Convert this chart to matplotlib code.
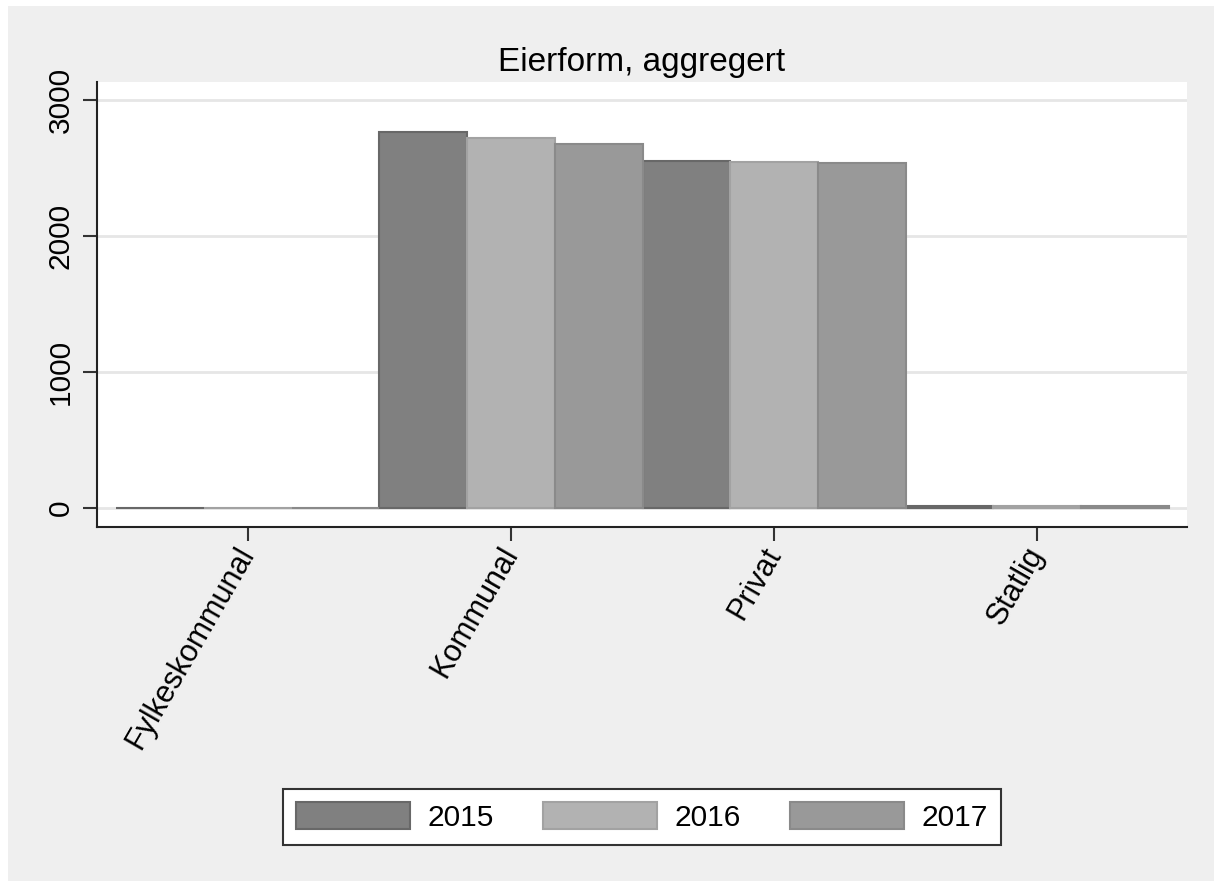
import matplotlib.pyplot as plt
import matplotlib.patches as mpatches
import numpy as np

plt.rcParams['font.family'] = ['Liberation Sans', 'DejaVu Sans']

categories = ['Fylkeskommunal', 'Kommunal', 'Privat', 'Statlig']
years = ['2015', '2016', '2017']
v2015 = [3, 2765, 2554, 12]
v2016 = [3, 2723, 2544, 11]
v2017 = [3, 2679, 2537, 11]

colors = ['#808080', '#b2b2b2', '#999999']
edges = ['#686868', '#a2a2a2', '#8a8a8a']

fig = plt.figure(figsize=(12.14, 8.81), dpi=100, facecolor='white')
# grey graph region (Stata style), slightly cropped at top/left
fig.patches.append(mpatches.Rectangle((8 / 1214, 0), 1, 1 - 6 / 881,
                                      transform=fig.transFigure,
                                      facecolor='#efefef', edgecolor='none', zorder=-10))

ax = fig.add_axes([97 / 1214, 1 - 527 / 881, 1090 / 1214, 445 / 881])
ax.set_zorder(2)
ax.set_facecolor('white')

x = np.arange(len(categories))
w = 1 / 3
for i, vals in enumerate([v2015, v2016, v2017]):
    ax.bar(x + (i - 1) * w, vals, width=w, color=colors[i], edgecolor=edges[i],
           linewidth=1.5, label=years[i], zorder=3)

ax.set_xlim(-0.574, 3.57)
ax.set_ylim(-140, 3132)
ax.set_yticks([0, 1000, 2000, 3000])
ax.set_yticklabels(['0', '1000', '2000', '3000'], rotation=90, va='center')
ax.grid(axis='y', color='#e6e6e6', linewidth=2, zorder=0)
ax.set_axisbelow(True)

ax.set_xticks(x)
ax.set_xticklabels(categories, rotation=60, ha='right', va='center',
                   rotation_mode='anchor')

for s in ['top', 'right']:
    ax.spines[s].set_visible(False)
for s in ['left', 'bottom']:
    ax.spines[s].set_color('#222222')
    ax.spines[s].set_linewidth(1.5)
ax.tick_params(axis='both', length=10, width=1.5, color='#333333', labelsize=21.5)
ax.tick_params(axis='x', labelsize=22)
ax.tick_params(axis='y', pad=6)
ax.tick_params(axis='x', pad=6)

fig.text(642 / 1214, 1 - 71 / 881, 'Eierform, aggregert', ha='center', va='baseline',
         fontsize=24)

leg = fig.legend(loc='center', bbox_to_anchor=(642 / 1214, 1 - 817 / 881), ncol=3,
                 fontsize=21.5, frameon=True, fancybox=False, handlelength=3.8,
                 handleheight=1.0, handletextpad=0.6, columnspacing=1.65,
                 borderpad=0.45, borderaxespad=0)
leg.get_frame().set_edgecolor('#333333')
leg.get_frame().set_linewidth(1.5)
leg.get_frame().set_facecolor('white')
leg.get_frame().set_alpha(1)

fig.savefig('out.png', dpi=100, facecolor=fig.get_facecolor())
